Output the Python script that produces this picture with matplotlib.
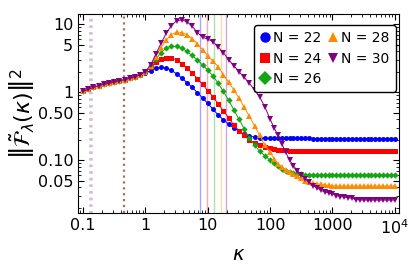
import matplotlib
matplotlib.use("Agg")
import matplotlib.pyplot as plt
import numpy as np

# kappa sampling grid: 12 points per decade up to 100, 16 per decade above
kappa = np.concatenate([np.logspace(-1, 2, 37), np.logspace(2, 4, 33)[1:]])

# shared low-kappa part (kappa = 0.1 ... 0.825)
common = [1.03, 1.09, 1.17, 1.24, 1.30, 1.35, 1.41, 1.46, 1.52, 1.59, 1.68, 1.80]

n22 = common + [1.92, 2.06, 2.23, 2.30, 2.26, 2.10, 1.85, 1.60, 1.38, 1.17, 0.98,
                0.82, 0.68, 0.56, 0.46, 0.39, 0.34, 0.295, 0.265, 0.24, 0.225,
                0.217, 0.213, 0.211, 0.21,
                0.21, 0.21, 0.209, 0.209, 0.209, 0.208, 0.208, 0.208, 0.208,
                0.208, 0.207, 0.207, 0.207, 0.207, 0.207, 0.207, 0.207, 0.207,
                0.207, 0.207, 0.207, 0.207, 0.207, 0.207, 0.207, 0.207, 0.207,
                0.207, 0.207, 0.207, 0.207, 0.207]
n24 = common + [1.99, 2.30, 2.75, 3.10, 3.22, 3.18, 2.95, 2.60, 2.25, 1.90, 1.58,
                1.30, 1.05, 0.85, 0.67, 0.53, 0.42, 0.33, 0.27, 0.23, 0.20,
                0.18, 0.165, 0.155, 0.149,
                0.145, 0.142, 0.140, 0.139, 0.138, 0.138, 0.137, 0.137, 0.137,
                0.137, 0.137, 0.137, 0.137, 0.137, 0.137, 0.137, 0.137, 0.137,
                0.137, 0.137, 0.137, 0.137, 0.137, 0.137, 0.137, 0.137, 0.137,
                0.137, 0.137, 0.137, 0.137, 0.137]
n26 = common + [2.00, 2.40, 3.05, 3.80, 4.45, 4.72, 4.70, 4.40, 3.95, 3.45, 2.95,
                2.50, 2.10, 1.72, 1.35, 1.02, 0.76, 0.55, 0.40, 0.29, 0.21,
                0.165, 0.135, 0.115, 0.100,
                0.090, 0.082, 0.075, 0.070, 0.067, 0.065, 0.063, 0.062, 0.061,
                0.0605, 0.060, 0.060, 0.060, 0.060, 0.060, 0.060, 0.060, 0.060,
                0.060, 0.060, 0.060, 0.060, 0.060, 0.060, 0.060, 0.060, 0.060,
                0.060, 0.060, 0.060, 0.060, 0.060]
n28 = common + [2.00, 2.45, 3.30, 4.50, 5.80, 7.00, 7.60, 7.50, 7.00, 6.10, 5.10,
                4.20, 3.40, 2.85, 2.35, 1.80, 1.40, 1.08, 0.82, 0.60, 0.44,
                0.32, 0.23, 0.165, 0.13,
                0.105, 0.088, 0.078, 0.071, 0.066, 0.062, 0.058, 0.054, 0.050,
                0.047, 0.0455, 0.045, 0.044, 0.043, 0.0425, 0.042, 0.0415, 0.0415,
                0.0415, 0.0415, 0.0415, 0.0415, 0.0415, 0.0415, 0.0415, 0.0415,
                0.0415, 0.0415, 0.0415, 0.0415, 0.0415, 0.0415]
n30 = common + [2.00, 2.50, 3.60, 5.20, 7.30, 9.50, 11.2, 11.5, 10.8, 9.30, 7.50,
                6.40, 6.00, 5.50, 4.60, 3.80, 3.00, 2.45, 2.00, 1.65, 1.35,
                1.07, 0.85, 0.60, 0.40,
                0.30, 0.23, 0.175, 0.13, 0.10, 0.082, 0.070, 0.060, 0.053,
                0.047, 0.042, 0.039, 0.036, 0.034, 0.033, 0.032, 0.030, 0.029,
                0.0285, 0.028, 0.0275, 0.0262, 0.026, 0.0258, 0.0258, 0.0258,
                0.0258, 0.0258, 0.0258, 0.0258, 0.0258, 0.0258]

labels = ['N = 22', 'N = 24', 'N = 26', 'N = 28', 'N = 30']
series = [n22, n24, n26, n28, n30]
colors = ['#0000ff', '#ff0000', '#12a612', '#ff8c00', '#800080']
markers = ['o', 's', 'D', '^', 'v']
msizes = [3.6, 3.6, 3.2, 4.4, 4.4]

# characteristic kappa for each N (solid lines) and small-kappa dotted lines
kappa_c = [7.5, 9.8, 12.7, 16.1, 19.5]
kappa_dot = [0.127, 0.134]
kappa_dot2 = 0.45

fig = plt.figure(figsize=(4.15, 2.66), dpi=100)
ax = fig.add_axes([0.188, 0.199, 0.773, 0.748])

ax.axvline(kappa_dot[0], color='silver', ls=':', lw=1.8, zorder=0)
ax.axvline(kappa_dot[1], color='thistle', ls=':', lw=1.8, zorder=0)
ax.axvline(kappa_dot2, color='#a07070', ls=':', lw=1.6, zorder=0)
for kc, c in zip(kappa_c, colors):
    ax.axvline(kc, color=c, lw=1.0, alpha=0.35, zorder=0)

for y, lab, c, m, ms in zip(series, labels, colors, markers, msizes):
    ax.plot(kappa, y, color=c, marker=m, ms=ms, lw=0.7, label=lab,
            markeredgewidth=0)

ax.set_xscale('log')
ax.set_yscale('log')
ax.set_xlim(0.083, 11600)
ax.set_ylim(0.0166, 14)

ax.set_xticks([0.1, 1, 10, 100, 1000, 10000])
ax.set_xticklabels(['0.1', '1', '10', '100', '1000', '$10^4$'])
ax.set_yticks([0.05, 0.1, 0.5, 1, 5, 10])
ax.set_yticklabels(['0.05', '0.10', '0.50', '1', '5', '10'])
ax.tick_params(which='both', direction='in', top=True, right=True)
ax.tick_params(which='major', length=4, labelsize=11.5)
ax.tick_params(which='minor', length=2)

ax.set_xlabel(r'$\kappa$', fontsize=14, labelpad=6)
ax.set_ylabel(r'$\left\|\tilde{\mathcal{F}}_\lambda(\kappa)\right\|^2$', fontsize=16,
              labelpad=1)

leg = ax.legend(ncol=2, loc='upper right', bbox_to_anchor=(0.99, 0.945),
                fontsize=10, frameon=True,
                handlelength=0.6, handletextpad=0.3, columnspacing=0.5,
                labelspacing=0.45, borderaxespad=0, borderpad=0.45)
leg.get_frame().set_edgecolor('black')
leg.get_frame().set_alpha(1)
for h in leg.legend_handles:
    h.set_linestyle('none')
    h.set_markersize(7.5)

fig.savefig('out.png', dpi=100)
